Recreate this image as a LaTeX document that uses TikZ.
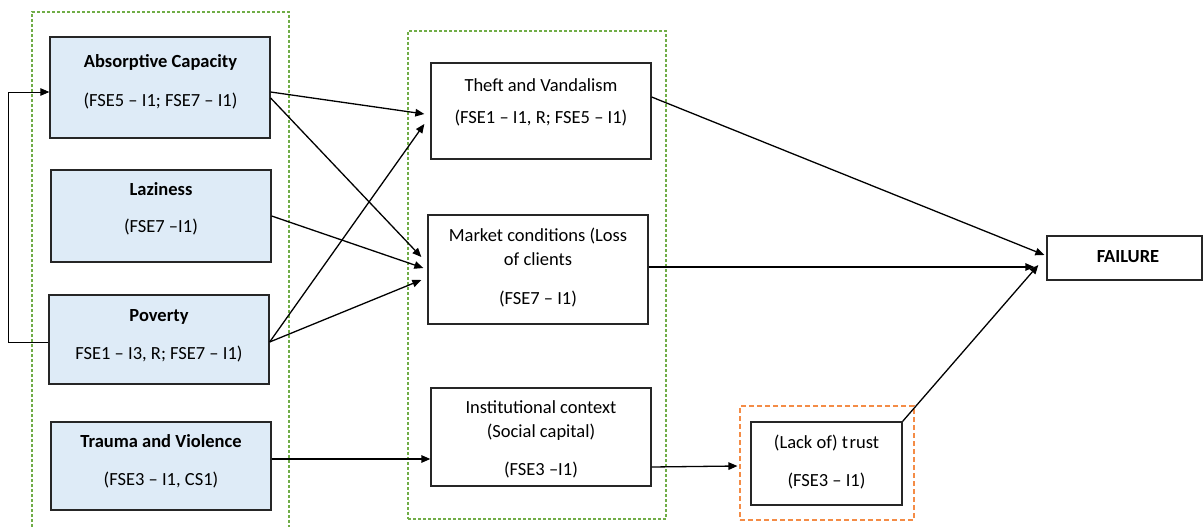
\documentclass[tikz,border=0pt]{standalone}
\usepackage{fontspec}
\setmainfont{Carlito}
\usetikzlibrary{arrows.meta,calc}
\definecolor{boxblue}{RGB}{222,235,247}
\definecolor{grpgreen}{RGB}{112,173,71}
\definecolor{grporange}{RGB}{244,140,70}
\begin{document}
\begin{tikzpicture}[x=1pt,y=-1pt,
  every node/.style={font=\fontsize{18.5}{21}\selectfont},
  box/.style={draw=black!85,line width=1.3pt,inner sep=0pt},
  cause/.style={box,fill=boxblue},
  lbl/.style={inner sep=0pt,anchor=base},
  arr/.style={line width=1.3pt,-{Triangle[length=9pt,width=7.5pt]}},
  grp/.style={line width=1.1pt,dash pattern=on 3pt off 2pt},
]
\useasboundingbox (0,0) rectangle (1203,527);

% groups
\draw[grp,draw=grpgreen] (32,527) -- (32,12) -- (289,12) -- (289,527);
\node[grp,draw=grpgreen,minimum width=258pt,minimum height=488pt,inner sep=0pt] (mid) at (537,275) {};
\node[line width=1.1pt,dash pattern=on 5pt off 3pt,draw=grporange,minimum width=174pt,minimum height=114pt,inner sep=0pt] (trustgrp) at (827,463) {};

% cause boxes
\node[cause,minimum width=220pt,minimum height=101pt] (abs) at (160,87.5) {};
\node[cause,minimum width=220pt,minimum height=92pt] (laz) at (161,216) {};
\node[cause,minimum width=220pt,minimum height=89pt] (pov) at (159,339.5) {};
\node[cause,minimum width=220pt,minimum height=88pt] (tra) at (161,466) {};

% mechanism boxes
\node[box,minimum width=220pt,minimum height=96pt] (theft) at (541,111) {};
\node[box,minimum width=220pt,minimum height=109pt] (market) at (538,269.5) {};
\node[box,minimum width=220pt,minimum height=98pt] (inst) at (541,437) {};
\node[box,minimum width=151pt,minimum height=83pt] (trust) at (826.5,463.5) {};
\node[box,minimum width=155pt,minimum height=44pt] (fail) at (1124.5,258) {};

% labels
\node[lbl] (abs-a) at (160.5,67.5) {\bfseries Absorptive Capacity};
\node[lbl] (abs-b) at (160.5,106.5) {(FSE5 – I1; FSE7 – I1)};
\node[lbl] (laz-a) at (161,195.5) {\bfseries Laziness};
\node[lbl] (laz-b) at (161,232.5) {(FSE7 –I1)};
\node[lbl] (pov-a) at (159,321.5) {\bfseries Poverty};
\node[lbl] (pov-b) at (159,359.5) {FSE1 – I3, R; FSE7 – I1)};
\node[lbl] (tra-a) at (161,447.5) {\bfseries Trauma and Violence};
\node[lbl] (tra-b) at (161,485.5) {(FSE3 – I1, CS1)};
\node[lbl] (theft-a) at (541,91.5) {Theft and Vandalism};
\node[lbl] (theft-b) at (541,123.5) {(FSE1 – I1, R; FSE5 – I1)};
\node[lbl] (market-a) at (538,241.5) {Market conditions (Loss};
\node[lbl] (market-b) at (538,265.5) {of clients};
\node[lbl] (market-c) at (538,304.5) {(FSE7 – I1)};
\node[lbl] (inst-a) at (541,413.5) {Institutional context};
\node[lbl] (inst-b) at (541,437.5) {(Social capital)};
\node[lbl] (inst-c) at (541,475.5) {(FSE3 –I1)};
\node[lbl] (trust-a) at (826.5,448.5) {(Lack of) t\kern1.5pt rust};
\node[lbl] (trust-b) at (826.5,486.5) {(FSE3 – I1)};
\node[lbl] (fail-a) at (1128,262.5) {\bfseries FAILURE};

% feedback loop from poverty to absorptive capacity
\draw[line width=0.8pt,-{Triangle[length=9pt,width=7.5pt]}]
  ($(pov.west)+(0,2.5)$) -- ++(-40,0) |- ($(abs.west)+(0,4.5)$);

% causes to mechanisms
\draw[arr] ($(abs.east)+(0,4.5)$) -- ($(theft.west)+(-6,3)$);
\draw[arr] ($(abs.east)+(0,10.5)$) -- ($(market.west)+(-6,-12.5)$);
\draw[arr] (laz.east) -- ($(market.west)+(-4,-1.5)$);
\draw[arr] ($(pov.east)+(0,2.5)$) -- ($(market.west)+(-6,10.5)$);
\draw[arr] ($(pov.east)+(0,2.5)$) -- ($(theft.west)+(-6,13)$);
\draw[arr] ($(tra.east)+(0,-7)$) -- ($(inst.west)+(0,22)$);
\draw[arr] ($(inst.east)+(0,30)$) -- ($(trustgrp.west)+(-2,3)$);

% mechanisms to failure
\draw[arr] ($(theft.east)+(0,-14)$) -- ($(fail.west)+(-2,-3)$);
\draw[arr] ($(market.east)+(0,-2.5)$) -- ($(fail.west)+(-12,9)$);
\draw[arr] (trust.north east) -- ($(fail.west)+(-8,7)$);
\end{tikzpicture}
\end{document}
